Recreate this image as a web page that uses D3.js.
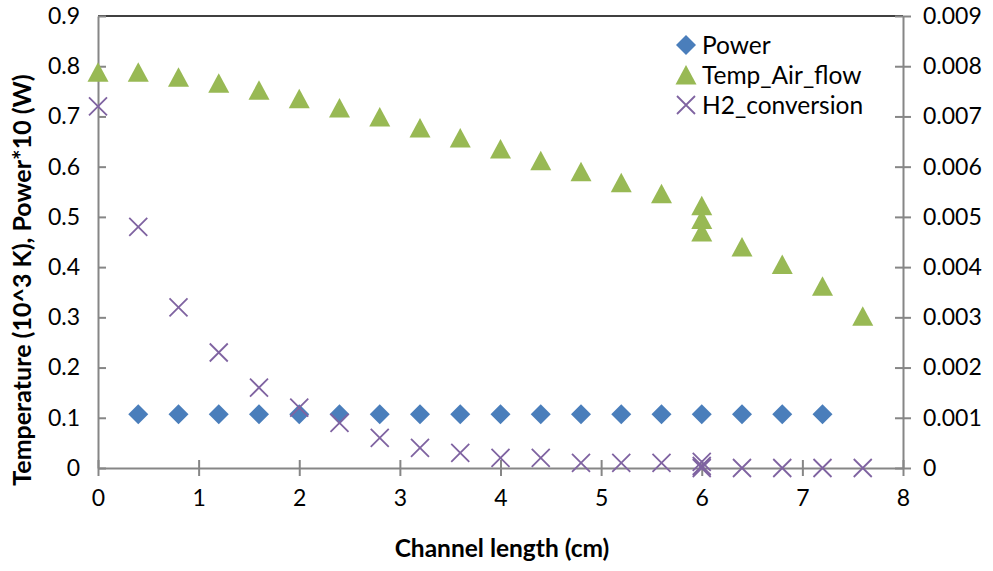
<!DOCTYPE html>
<html>
<head>
<meta charset="utf-8">
<script src="https://cdn.jsdelivr.net/npm/d3@7"></script>
<style>
  body { margin: 0; background: #fff; }
  text { font-family: Lato, "Open Sans", sans-serif; fill: #000; }
</style>
</head>
<body>
<svg id="chart" width="993" height="571"></svg>
<script>
// data
var powerX = [0.4, 0.8, 1.2, 1.6, 2.0, 2.4, 2.8, 3.2, 3.6, 4.0, 4.4, 4.8, 5.2, 5.6, 6.0, 6.4, 6.8, 7.2];
var powerY = [0.107, 0.107, 0.107, 0.107, 0.107, 0.107, 0.107, 0.107, 0.107, 0.107, 0.107, 0.107, 0.107, 0.107, 0.107, 0.107, 0.107, 0.107];

var tempX = [0, 0.4, 0.8, 1.2, 1.6, 2.0, 2.4, 2.8, 3.2, 3.6, 4.0, 4.4, 4.8, 5.2, 5.6, 6.0, 6.0, 6.0, 6.4, 6.8, 7.2, 7.6];
var tempY = [0.788, 0.788, 0.778, 0.766, 0.752, 0.735, 0.717, 0.699, 0.677, 0.657, 0.635, 0.612, 0.590, 0.568, 0.546, 0.522, 0.495, 0.470, 0.440, 0.405, 0.362, 0.302];

var h2X = [0, 0.4, 0.8, 1.2, 1.6, 2.0, 2.4, 2.8, 3.2, 3.6, 4.0, 4.4, 4.8, 5.2, 5.6, 6.0, 6.0, 6.0, 6.4, 6.8, 7.2, 7.6];
var h2Y = [0.0072, 0.0048, 0.0032, 0.0023, 0.0016, 0.0012, 0.0009, 0.0006, 0.0004, 0.0003, 0.0002, 0.0002, 0.0001, 0.0001, 0.0001, 0.00012, 0.00004, 0, 0, 0, 0, 0];

var xTicks = [0, 1, 2, 3, 4, 5, 6, 7, 8];
var yTicks = [0, 0.1, 0.2, 0.3, 0.4, 0.5, 0.6, 0.7, 0.8, 0.9];
var y2Ticks = [0, 0.001, 0.002, 0.003, 0.004, 0.005, 0.006, 0.007, 0.008, 0.009];

var seriesNames = ["Power", "Temp_Air_flow", "H2_conversion"];
var colors = {power: "#4a7ebb", temp: "#98b954", h2: "#7f63a1"};

var mLeft = 98, mRight = 903, mTop = 16, mBottom = 468;

var svg = d3.select("#chart");

var x = d3.scaleLinear().domain([0, 8]).range([mLeft, mRight]);
var y = d3.scaleLinear().domain([0, 0.9]).range([mBottom, mTop]);
var y2 = d3.scaleLinear().domain([0, 0.009]).range([mBottom, mTop]);

var fmt = function(d) { return d === 0 ? "0" : d3.format(".1f")(d); };
var fmt2 = function(d) { return d === 0 ? "0" : d3.format(".3f")(d); };

// top border
svg.append("line")
    .attr("x1", mLeft).attr("x2", mRight)
    .attr("y1", mTop).attr("y2", mTop)
    .attr("stroke", "#000").attr("stroke-width", 1.3);

// left axis
var gy = svg.append("g")
    .attr("transform", "translate(" + mLeft + ",0)")
    .call(d3.axisLeft(y).tickValues(yTicks).tickFormat(fmt).tickSizeInner(8).tickSizeOuter(0).tickPadding(10));
gy.selectAll(".tick line").attr("x2", 8);

// right axis
var gy2 = svg.append("g")
    .attr("transform", "translate(" + mRight + ",0)")
    .call(d3.axisRight(y2).tickValues(y2Ticks).tickFormat(fmt2).tickSizeInner(8).tickSizeOuter(0).tickPadding(12));
gy2.selectAll(".tick line").attr("x1", -8);

// bottom axis
var gx = svg.append("g")
    .attr("transform", "translate(0," + mBottom + ")")
    .call(d3.axisBottom(x).tickValues(xTicks).tickFormat(d3.format("d")).tickSizeInner(8).tickSizeOuter(0).tickPadding(14));
gx.selectAll(".tick line").attr("y1", -8);

svg.selectAll(".domain").attr("stroke", "#868686").attr("stroke-width", 2);
svg.selectAll(".tick line").attr("stroke", "#868686").attr("stroke-width", 2);
svg.selectAll(".tick text").style("font-size", "23px").attr("fill", "#000");

// axis titles
svg.append("text")
    .attr("transform", "translate(31,280) rotate(-90)")
    .attr("text-anchor", "middle")
    .style("font-size", "25px").style("font-weight", "bold")
    .text("Temperature (10^3 K), Power*10 (W)");

svg.append("text")
    .attr("x", 502).attr("y", 557)
    .attr("text-anchor", "middle")
    .style("font-size", "24.5px").style("font-weight", "bold")
    .text("Channel length (cm)");

// markers
var diamond = d3.symbol().type(d3.symbolSquare).size(200);
var triangle = "M0,-10L10.5,9.5L-10.5,9.5Z";
var cross = "M-9,-9L9,9M-9,9L9,-9";

svg.append("g").selectAll("path")
    .data(powerX.map(function(v, i) { return [v, powerY[i]]; }))
    .join("path")
    .attr("d", diamond)
    .attr("transform", function(d) { return "translate(" + x(d[0]) + "," + y(d[1]) + ") rotate(45)"; })
    .attr("fill", colors.power);

svg.append("g").selectAll("path")
    .data(tempX.map(function(v, i) { return [v, tempY[i]]; }))
    .join("path")
    .attr("d", triangle)
    .attr("transform", function(d) { return "translate(" + x(d[0]) + "," + y(d[1]) + ")"; })
    .attr("fill", colors.temp);

svg.append("g").selectAll("path")
    .data(h2X.map(function(v, i) { return [v, h2Y[i]]; }))
    .join("path")
    .attr("d", cross)
    .attr("transform", function(d) { return "translate(" + x(d[0]) + "," + y2(d[1]) + ")"; })
    .attr("stroke", colors.h2).attr("stroke-width", 1.8).attr("fill", "none");

// legend
var legend = svg.append("g").attr("transform", "translate(686,45)");
var legendShapes = [
  {name: seriesNames[0], draw: function(g) { g.append("path").attr("d", diamond).attr("transform", "rotate(45)").attr("fill", colors.power); }},
  {name: seriesNames[1], draw: function(g) { g.append("path").attr("d", triangle).attr("fill", colors.temp); }},
  {name: seriesNames[2], draw: function(g) { g.append("path").attr("d", cross).attr("stroke", colors.h2).attr("stroke-width", 1.8).attr("fill", "none"); }}
];
legendShapes.forEach(function(s, i) {
  var g = legend.append("g").attr("transform", "translate(0," + (i * 30) + ")");
  s.draw(g);
  g.append("text").attr("x", 16).attr("dy", "0.35em")
    .style("font-size", "24.5px").text(s.name);
});
</script>
</body>
</html>
